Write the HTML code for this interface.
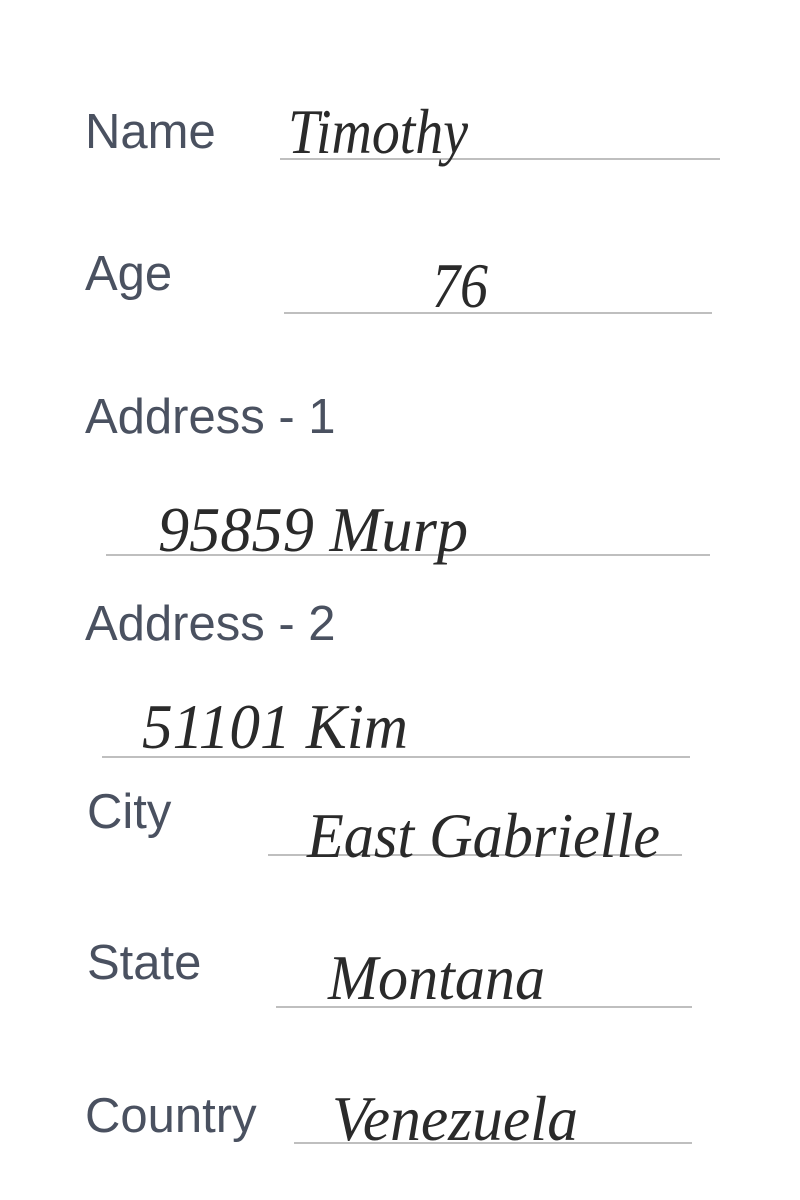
<!DOCTYPE html>
<html><head><meta charset="utf-8"><style>
html,body{margin:0;padding:0;background:#fff;}
svg{display:block;}
.lbl{font-family:"Liberation Sans",sans-serif;font-size:49px;fill:#4a5160;}
.hw{font-family:"Liberation Serif",serif;font-style:italic;font-size:64px;fill:#2a2a2a;font-weight:normal;}
.ln{stroke:#999;stroke-width:1.2;}
</style></head><body>
<svg width="800" height="1200" viewBox="0 0 800 1200">
<g>
<text class="lbl" x="85" y="148">Name</text>
<line class="ln" x1="280" y1="159" x2="720" y2="159"/>
<text class="hw" x="288" y="153" textLength="180" lengthAdjust="spacingAndGlyphs">Timothy</text>
</g>
<g>
<text class="lbl" x="85" y="290">Age</text>
<line class="ln" x1="284" y1="313" x2="712" y2="313"/>
<text class="hw" x="432" y="307" textLength="56" lengthAdjust="spacingAndGlyphs">76</text>
</g>
<g>
<text class="lbl" x="85" y="433">Address - 1</text>
<line class="ln" x1="106" y1="555" x2="710" y2="555"/>
<text class="hw" x="158" y="551" textLength="310" lengthAdjust="spacingAndGlyphs">95859 Murp</text>
</g>
<g>
<text class="lbl" x="85" y="640">Address - 2</text>
<line class="ln" x1="102" y1="757" x2="690" y2="757"/>
<text class="hw" x="142" y="748" textLength="266" lengthAdjust="spacingAndGlyphs">51101 Kim</text>
</g>
<g>
<text class="lbl" x="87" y="828">City</text>
<line class="ln" x1="268" y1="855" x2="682" y2="855"/>
<text class="hw" x="307" y="857" textLength="353" lengthAdjust="spacingAndGlyphs">East Gabrielle</text>
</g>
<g>
<text class="lbl" x="87" y="979">State</text>
<line class="ln" x1="276" y1="1007" x2="692" y2="1007"/>
<text class="hw" x="328" y="999" textLength="217" lengthAdjust="spacingAndGlyphs">Montana</text>
</g>
<g>
<text class="lbl" x="85" y="1132">Country</text>
<line class="ln" x1="294" y1="1143" x2="692" y2="1143"/>
<text class="hw" x="332" y="1140" textLength="246" lengthAdjust="spacingAndGlyphs">Venezuela</text>
</g>
</svg>
</body></html>
